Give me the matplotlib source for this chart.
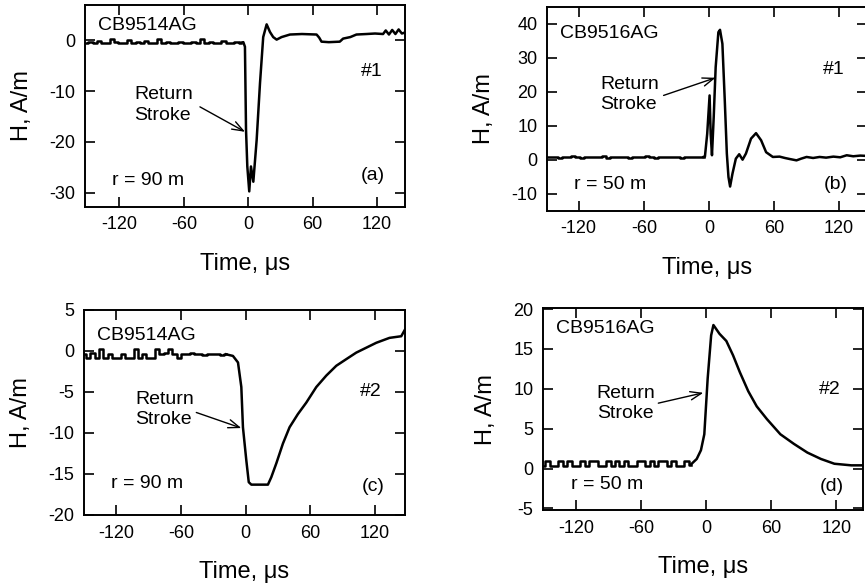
import matplotlib
matplotlib.use("Agg")
import matplotlib.pyplot as plt

plt.rcParams['font.family'] = ['Liberation Sans', 'DejaVu Sans']
plt.rcParams['axes.unicode_minus'] = False

# ---- data ----
xticks = [-120, -60, 0, 60, 120]

# (a) CB9514AG, stroke #1, r = 90 m
base_t_a = [-151, -147, -143, -139, -135, -131, -127, -123, -119, -115, -111, -107, -103,
            -99, -95, -91, -87, -83, -79, -75, -71, -67, -63, -59, -55, -51, -47, -43,
            -39, -35, -31, -27, -23, -19, -15, -11, -7]
base_h_a = [-0.5, -0.4, -0.6, -0.2, -0.5, -0.5, 0.2, -0.4, -0.6, -0.5, 0.1, -0.5, -0.4,
            -0.6, -0.2, -0.5, -0.5, 0.2, -0.5, -0.4, -0.6, -0.5, -0.3, -0.5, -0.6, -0.4,
            -0.5, 0.2, -0.5, -0.4, -0.6, -0.5, -0.2, -0.5, -0.5, -0.4, -0.5]
t_a = [-7, -4.6, -3.1, -2.1, -0.9, 0.9, 2.5, 4.7, 7.8, 10.9, 13.9, 17.1, 20.2, 23.2, 26.4,
       31, 38.8, 50, 63.6, 66, 68.2, 75, 85.2, 88.3, 95, 100.7, 110, 118, 125.5, 128,
       131, 134, 137, 140, 143, 146]
h_a = [-0.5, -0.4, -1.3, -17.6, -24.8, -29.7, -24.8, -27.8, -19.6, -8.5, 0.6, 3.1, 1.6,
       0.6, 0.1, 0.6, 1.1, 1.2, 1.1, 0.5, -0.3, -0.4, -0.3, 0.3, 0.6, 1.1, 1.2, 1.3, 1.2,
       1.9, 1.1, 2.0, 1.2, 2.1, 1.3, 1.5]

# (b) CB9516AG, stroke #1, r = 50 m
base_t_b = [-149, -145, -141, -137, -133, -129, -125, -121, -117, -113, -109, -105, -101,
            -97, -93, -89, -85, -81, -77, -73, -69, -65, -61, -57, -53, -49, -45, -41,
            -37, -33, -29, -25, -21, -17, -13, -9, -5]
base_h_b = [0.8, 0.7, 0.9, 0.6, 0.8, 0.8, 1.0, 0.7, 0.6, 0.9, 0.8, 0.7, 0.8, 1.0, 0.6,
            0.8, 0.9, 0.7, 0.8, 0.6, 0.9, 0.8, 0.7, 1.0, 0.8, 0.6, 0.8, 0.9, 0.7, 0.8,
            0.8, 0.6, 0.9, 0.8, 0.7, 0.9, 0.8]
t_b = [-5, -3.7, -1.6, 0.6, 1.6, 2.8, 4.4, 6.2, 8.7, 10.2, 12.4, 14.6, 16.5, 18, 19.5,
       21.7, 24.8, 27.9, 31, 34.1, 38.8, 43.4, 48.1, 52.7, 58.9, 65.1, 70, 74.4, 80.7,
       85, 90, 96, 102, 108, 114.7, 121, 127, 133, 139.5, 146]
h_b = [0.8, 0.9, 7.6, 18.9, 7.6, 1.3, 12.5, 27.2, 37.5, 38.2, 34.1, 17.4, 1.8, -5.1,
       -7.9, -4.1, 0.3, 1.6, 0.0, 1.8, 6.2, 7.8, 5.7, 2.2, 0.8, 0.9, 0.5, 0.2, -0.2, 0.3,
       0.8, 0.5, 0.8, 0.6, 0.9, 0.7, 1.3, 1.0, 1.2, 1.1]

# (c) CB9514AG, stroke #2, r = 90 m
base_t_c = [-150, -146, -142, -138, -134, -130, -126, -122, -118, -114, -110, -106, -102,
            -98, -94, -90, -86, -82, -78, -74, -70, -66, -62, -58, -54, -50, -46, -42,
            -38, -34, -30, -26, -22, -18]
base_h_c = [-0.4, -0.8, -0.2, -0.8, 0.3, -0.8, -0.4, -0.8, -0.8, -0.4, -0.9, -0.8, 0.2,
            -0.8, -0.4, -0.8, -0.8, 0.3, -0.4, -0.2, 0.3, -0.4, -0.8, -0.4, -0.4, -0.3,
            -0.4, -0.4, -0.5, -0.4, -0.4, -0.4, -0.5, -0.4]
t_c = [-18, -15, -11.7, -7, -3.9, -2.4, 0.7, 3, 5.4, 12, 20.8, 23.9, 28.6, 34.7, 40.9,
       48.6, 56.4, 65.7, 75, 84.3, 93.5, 102.8, 112.1, 121.4, 133.7, 144.6, 148]
h_c = [-0.4, -0.5, -0.6, -1.4, -4.4, -9.3, -13.3, -16.0, -16.3, -16.3, -16.3, -15.4,
       -13.7, -11.3, -9.3, -7.7, -6.3, -4.4, -3.0, -1.8, -1.0, -0.2, 0.4, 1.0, 1.6, 1.8,
       2.6]

# (d) CB9516AG, stroke #2, r = 50 m
base_t_d = [-150, -146, -142, -138, -134, -130, -126, -122, -118, -114, -110, -106, -102,
            -98, -94, -90, -86, -82, -78, -74, -70, -66, -62, -58, -54, -50, -46, -42,
            -38, -34, -30, -26, -22, -18, -14]
base_h_d = [0.3, 1.0, 0.3, 0.3, 1.0, 0.3, 1.0, 0.3, 0.3, 1.0, 0.3, 1.0, 1.0, 0.3, 0.3,
            1.0, 0.3, 1.0, 0.3, 1.0, 0.3, 0.3, 1.0, 1.0, 0.3, 1.0, 0.3, 1.0, 1.0, 0.3,
            1.0, 0.3, 0.3, 1.0, 0.5]
t_d = [-14, -8.6, -4.7, -1.6, 1.5, 4.7, 6.8, 12.4, 18.7, 24.9, 31.1, 38.9, 46.7, 56.1,
       68.5, 80.9, 93.4, 105.9, 118.3, 133.9, 146]
h_d = [0.5, 1.2, 2.3, 4.3, 11.3, 16.7, 18.0, 16.9, 16.0, 14.2, 12.1, 9.7, 7.8, 6.2, 4.3,
       3.1, 2.0, 1.2, 0.6, 0.4, 0.4]

panels = [
    dict(bt=base_t_a, bh=base_h_a, t=t_a, h=h_a, pos=[0.0983, 0.6479, 0.370, 0.3436],
         xlim=(-152, 146), ylim=(-32.7, 6.9), yticks=[-30, -20, -10, 0],
         name='CB9514AG', num='#1', tag='(a)', r='r = 90 m',
         arrow=((-45, -13.1), (-3, -18)),
         txt=(0.154, 0.504), id_y=0.90, num_y=0.67, tag_y=0.157, r_y=0.132),
    dict(bt=base_t_b, bh=base_h_b, t=t_b, h=h_b, pos=[0.6327, 0.6411, 0.370, 0.3475],
         xlim=(-149, 146), ylim=(-15, 45), yticks=[-10, 0, 10, 20, 30, 40],
         name='CB9516AG', num='#1', tag='(b)', r='r = 50 m',
         arrow=((-41.8, 18.9), (6.1, 24.1)),
         txt=(0.165, 0.571), id_y=0.87, num_y=0.69, tag_y=0.126, r_y=0.126),
    dict(bt=base_t_c, bh=base_h_c, t=t_c, h=h_c, pos=[0.0971, 0.1227, 0.371, 0.3492],
         xlim=(-150, 148), ylim=(-20, 5), yticks=[-20, -15, -10, -5, 0, 5],
         name='CB9514AG', num='#2', tag='(c)', r='r = 90 m',
         arrow=((-45.7, -7.5), (-3.9, -9.4)),
         txt=(0.159, 0.516), id_y=0.878, num_y=0.60, tag_y=0.138, r_y=0.155),
    dict(bt=base_t_d, bh=base_h_d, t=t_d, h=h_d, pos=[0.6281, 0.1312, 0.370, 0.3436],
         xlim=(-150, 145), ylim=(-5.2, 20.1), yticks=[-5, 0, 5, 10, 15, 20],
         name='CB9516AG', num='#2', tag='(d)', r='r = 50 m',
         arrow=((-44, 8.2), (-2.5, 9.5)),
         txt=(0.167, 0.528), id_y=0.90, num_y=0.595, tag_y=0.116, r_y=0.124),
]

fig = plt.figure(figsize=(8.65, 5.87), dpi=100)

for p in panels:
    ax = fig.add_axes(p['pos'])
    # noisy pre-stroke baseline (digitiser steps), then the waveform itself
    ax.plot(p['bt'], p['bh'], color='black', lw=1.8, drawstyle='steps-mid')
    ax.plot(p['t'], p['h'], color='black', lw=1.8)
    ax.set_xlim(p['xlim'])
    ax.set_ylim(p['ylim'])
    ax.set_xticks(xticks)
    ax.set_yticks(p['yticks'])
    ax.tick_params(direction='in', length=7, width=1.2, top=True, right=True,
                   labelsize=13, pad=7)
    for s in ax.spines.values():
        s.set_linewidth(1.4)
    ax.set_xlabel('Time, \u03bcs', fontsize=17, labelpad=14)
    ax.set_ylabel('H, A/m', fontsize=17, labelpad=12)

    ax.text(0.04, p['id_y'], p['name'], transform=ax.transAxes, fontsize=14,
            ha='left', va='center')
    ax.text(0.895, p['num_y'], p['num'], transform=ax.transAxes, fontsize=14,
            ha='center', va='center')
    ax.text(0.90, p['tag_y'], p['tag'], transform=ax.transAxes, fontsize=14,
            ha='center', va='center')
    ax.text(0.085, p['r_y'], p['r'], transform=ax.transAxes, fontsize=14,
            ha='left', va='center')
    ax.text(p['txt'][0], p['txt'][1], 'Return\nStroke', transform=ax.transAxes,
            fontsize=14, ha='left', va='center', linespacing=1.25)
    ax.annotate('', xy=p['arrow'][1], xytext=p['arrow'][0],
                arrowprops=dict(arrowstyle='->, head_length=0.8, head_width=0.3',
                                lw=1.0, color='black', shrinkA=0, shrinkB=0))

fig.savefig('out.png', dpi=100)
